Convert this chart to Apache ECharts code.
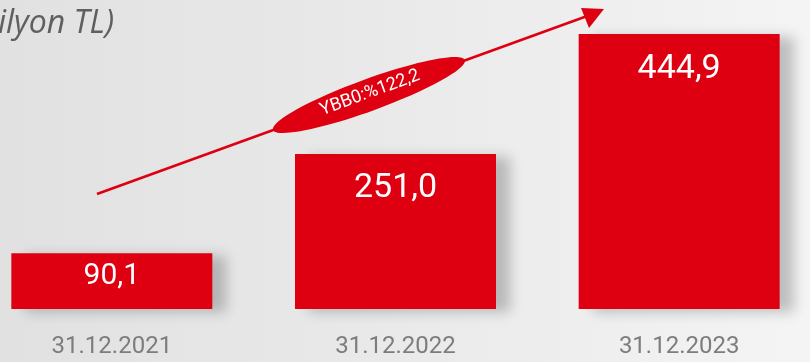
<!DOCTYPE html>
<html>
<head>
<meta charset="utf-8">
<script src="https://cdn.jsdelivr.net/npm/echarts@6/dist/echarts.min.js"></script>
<style>
	html, body { margin: 0; padding: 0; overflow: hidden; }
	body {
		width: 810px;
		height: 362px;
		background: linear-gradient(90deg, #e1e1e1 0%, #e9e9e9 45%, #f4f4f4 100%);
	}
	/* grafik alanı sola taşıyor, ilk sütun kenara yakın */
	#chart {
		position: absolute;
		left: -30px;
		top: 0;
		width: 851px;
		height: 362px;
	}
</style>
</head>
<body>
<div id="chart"></div>
<script>
	// tarihler ve değerler (Milyon TL)
	var categories = ['31.12.2021', '31.12.2022', '31.12.2023']
	var values = [90.1, 251.0, 444.9]
	var valueLabels = ['90,1', '251,0', '444,9']
	var growthLabel = 'YBB0:%122,2'

	var red = '#de0010'
	var dx = 30 // div kaydırması
	var myChart = echarts.init(document.getElementById('chart'))

	var option = {
		animation: false,
		grid: {
			left: 0,
			right: 0,
			top: -2,
			bottom: 53
		},
		xAxis: {
			type: 'category',
			data: categories,
			axisLine: { show: false },
			axisTick: { show: false },
			axisLabel: {
				color: '#7d7d7d',
				fontFamily: 'Roboto',
				fontSize: 24,
				margin: 26
			}
		},
		yAxis: {
			type: 'value',
			min: 0,
			max: 500,
			show: false,
			splitLine: { show: false }
		},
		series: [
			{
				type: 'bar',
				barWidth: 201,
				data: values.map(function (v, i) {
					return {
						value: v,
						label: {
							formatter: valueLabels[i],
							fontSize: i === 0 ? 30 : 34,
							distance: i === 0 ? 8 : 18
						}
					}
				}),
				itemStyle: {
					color: red,
					shadowColor: 'rgba(0,0,0,0.22)',
					shadowBlur: 12,
					shadowOffsetX: 14,
					shadowOffsetY: 3
				},
				label: {
					show: true,
					position: 'insideTop',
					color: '#fff',
					fontFamily: 'Roboto'
				}
			}
		],
		graphic: [
			{
				type: 'text',
				x: 114 + dx,
				y: 24,
				style: {
					text: '(Milyon TL)',
					align: 'right',
					verticalAlign: 'middle',
					fill: '#5f5f5f',
					font: 'italic 32px "Open Sans"'
				}
			},
			// büyüme oku
			{
				type: 'line',
				shape: { x1: 97 + dx, y1: 194, x2: 590 + dx, y2: 15 },
				style: { stroke: red, lineWidth: 2.6 }
			},
			{
				type: 'polygon',
				shape: { points: [[604 + dx, 9], [581 + dx, 8], [589 + dx, 28]] },
				style: { fill: red }
			},
			{
				type: 'ellipse',
				x: 369 + dx,
				y: 95,
				rotation: 20 * Math.PI / 180,
				shape: { cx: 0, cy: 0, rx: 102, ry: 16 },
				style: { fill: red }
			},
			{
				type: 'text',
				x: 370 + dx,
				y: 93,
				rotation: 20 * Math.PI / 180,
				style: {
					text: growthLabel,
					align: 'center',
					verticalAlign: 'middle',
					fill: '#fff',
					font: '18px Roboto'
				}
			}
		]
	}

	myChart.setOption(option)
</script>
</body>
</html>
